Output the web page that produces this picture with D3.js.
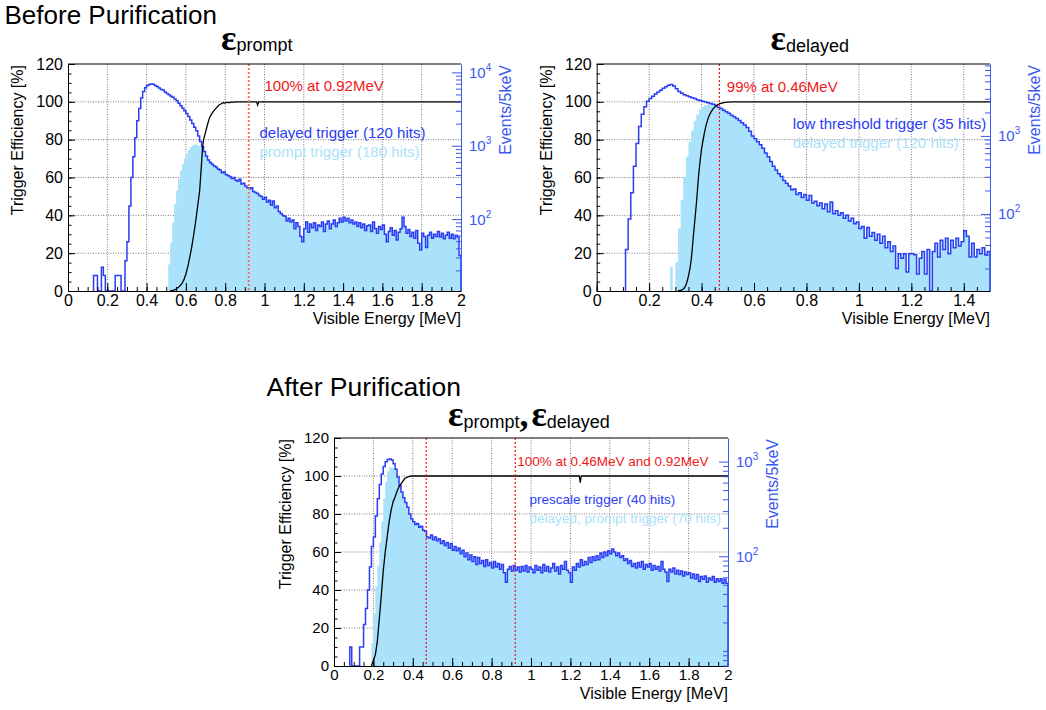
<!DOCTYPE html>
<html>
<head>
<meta charset="utf-8">
<script src="https://cdn.jsdelivr.net/npm/d3@7"></script>
<style>
  body { margin: 0; background: #fff; }
</style>
</head>
<body>
<svg id="chart" width="1046" height="710"></svg>
<script>
// Histograms re-binned to 10 keV steps, values kept as Events/5keV
var binWidth = 0.01;

// ---------- Before purification, epsilon prompt ----------
// delayed trigger (120 hits), first bin starts at 0.13 MeV
var promptLineStart = 0.13;
var promptLineCounts = [
  17, 17, 0, 0, 22, 17, 0, 0, 0, 0,
  0, 17, 17, 17, 0, 0, 27, 49, 151, 369,
  708, 1280, 2190, 3220, 4470, 5500, 6180, 6600, 6840, 6920,
  6880, 6640, 6440, 6110, 5860, 5750, 5390, 5170, 4960, 4730,
  4570, 4330, 4100, 3780, 3520, 3240, 3000, 2760, 2500, 2240,
  2010, 1780, 1600, 1360, 1140, 971, 832, 726, 641, 590,
  559, 530,
  512, 482, 468, 428, 441, 404, 392, 380, 358, 369,
  338, 328, 348, 300, 309, 283, 267, 259, 267, 237,
  230, 223, 210, 204, 186, 198, 171, 181, 156, 176,
  143, 151, 127, 119, 112, 109, 94, 103, 91, 97,
  74, 89, 79, 58, 49, 74, 91, 66, 86, 76,
  89, 70, 83, 79, 91, 68, 86, 94, 74, 86,
  97, 79, 89, 103, 91, 106, 94, 103, 89, 97,
  86, 91, 79, 89, 76, 86, 70, 81, 83, 68,
  91, 74, 64, 79, 72, 83, 62, 49, 68, 76,
  60, 70, 52, 66, 74, 106, 79, 64, 72, 58,
  66, 55, 70, 47, 38, 64, 58, 41, 60, 66,
  55, 62, 58, 68, 57, 64, 54, 60, 66, 55,
  62, 54, 60, 57, 32
];
// prompt trigger (180 hits) rising edge; above it the two histograms coincide
var promptFillStart = 0.51;
var promptFillCounts = [24, 47, 89, 161, 244, 348, 455, 559, 668, 773, 869, 953, 1010, 1048, 1042, 1010, 953];
var promptEffE = [0.52, 0.54, 0.55, 0.56, 0.57, 0.58, 0.59, 0.60, 0.61, 0.62, 0.63, 0.64, 0.65, 0.66, 0.67, 0.68,
  0.685, 0.69, 0.70, 0.71, 0.72, 0.73, 0.74, 0.75, 0.76, 0.77, 0.78, 0.79, 0.80, 0.81, 0.82, 0.83,
  0.84, 0.85, 0.96, 0.965, 0.97, 2.0];
var promptEffV = [0, 0.5, 1, 1.8, 2.8, 4, 6, 9, 13, 18, 23.5, 30, 37, 45, 53, 68,
  76, 80, 84, 88, 91.5, 93.5, 95, 96.3, 97.3, 98.5, 99, 99.5, 99.3, 99.8, 99.5, 100,
  99.7, 100, 100, 98.3, 100, 100];

// ---------- Before purification, epsilon delayed ----------
// low threshold trigger (35 hits), first bin starts at 0.11 MeV
var delayedLineStart = 0.11;
var delayedLineCounts = [
  35, 86, 187, 409, 800, 1320, 1900, 2370, 2775, 3015,
  3222, 3446, 3642, 3852, 4074, 4259, 4454, 4553, 4376, 4030,
  3710, 3520, 3371, 3275, 3170, 3083, 3015, 2917, 2851, 2787,
  2728, 2667, 2606, 2549, 2467, 2333, 2243, 2133, 2040, 1950,
  1845, 1763, 1668, 1578, 1475, 1380, 1283, 1148, 998, 919,
  845, 769, 695, 604, 541, 470, 409, 366, 327, 301,
  269, 248, 228, 204, 209, 177, 187, 163, 177, 150,
  172, 138, 146, 127, 138, 117, 134, 107, 142, 101,
  110, 96, 104, 88, 96, 81, 88, 75, 79, 65,
  69, 49, 67, 52, 58, 46, 55, 42, 52, 37,
  44, 33, 39, 20, 31, 27, 31, 18, 31, 31,
  30, 17, 27, 33, 17, 35, 0, 33, 42, 28,
  46, 35, 49, 31, 46, 37, 49, 39, 44, 61,
  52, 28, 42, 28, 35, 31, 37, 30, 33
];
// delayed trigger (120 hits) rising edge
var delayedFillStart = 0.28;
var delayedFillCounts = [21, 0, 24, 65, 150, 293, 541, 845, 1180, 1560, 1896, 2181, 2346, 2467, 2522, 2549, 2549];
var delayedEffE = [0.31, 0.32, 0.33, 0.34, 0.35, 0.36, 0.37, 0.38, 0.39, 0.40, 0.41, 0.42, 0.43, 0.44,
  0.45, 0.46, 0.47, 0.48, 0.49, 0.50, 0.52, 1.5];
var delayedEffV = [0, 0.3, 1, 3, 8, 16, 31, 46, 63, 75, 83, 89, 93, 95.5,
  97.2, 98.3, 99, 99.4, 99.7, 99.85, 100, 100];

// ---------- After purification ----------
// prescale trigger (40 hits), first bin starts at 0.08 MeV
var afterLineStart = 0.08;
var afterLineCounts = [
  11, 0, 0, 0, 0, 11, 11, 19, 28, 44,
  77, 127, 160, 267, 405, 572, 738, 887, 996, 1052,
  1067, 1038, 951, 828, 688, 559, 476, 414, 369, 329,
  279, 249, 232, 217, 222, 202, 207, 188, 184, 160,
  156, 168, 149, 160, 146, 153, 136, 146, 130, 140,
  122, 136, 116, 127, 114, 122, 106, 116, 99, 108,
  92, 103, 88, 99, 82, 97, 84, 90, 78, 92,
  80, 86, 75, 88, 77, 84, 73, 82, 67, 53,
  73, 78, 70, 80, 71, 77, 68, 78, 70, 80,
  68, 77, 73, 67, 80, 71, 77, 67, 82, 70,
  78, 68, 75, 84, 70, 77, 65, 80, 73, 88,
  71, 67, 53, 77, 71, 84, 77, 92, 80, 88,
  82, 97, 86, 99, 90, 101, 92, 108, 97, 111,
  101, 114, 106, 119, 111, 101, 108, 97, 101, 90,
  94, 84, 90, 78, 84, 75, 86, 77, 88, 73,
  82, 77, 84, 71, 80, 73, 78, 70, 88, 73,
  68, 54, 73, 68, 75, 65, 71, 64, 70, 62,
  68, 64, 67, 59, 65, 58, 64, 54, 61, 57,
  62, 53, 59, 56, 61, 53, 58, 54, 58, 52,
  57, 52
];
// delayed, prompt trigger (70 hits) rising edge
var afterFillStart = 0.19;
var afterFillCounts = [12, 25, 48, 80, 140, 232, 405, 613, 791, 879, 867, 855];
var afterEffE = [0.19, 0.20, 0.21, 0.22, 0.23, 0.24, 0.25, 0.26, 0.27, 0.28, 0.29, 0.30, 0.31, 0.32,
  0.33, 0.34, 0.35, 0.36, 0.37, 0.38, 0.39, 1.245, 1.25, 1.255, 2.0];
var afterEffV = [0, 3, 6, 13, 25, 37, 50, 60, 68, 76, 82, 86.5, 89, 92,
  94.3, 95.8, 97.3, 98.8, 99.3, 99.7, 100, 100, 96.5, 100, 100];

// axis ticks
var xTicksWide = [0, 0.2, 0.4, 0.6, 0.8, 1, 1.2, 1.4, 1.6, 1.8, 2];
var xTicksNarrow = [0, 0.2, 0.4, 0.6, 0.8, 1, 1.2, 1.4];
var effTicks = [0, 20, 40, 60, 80, 100, 120];

var FONT = '"Liberation Sans", Arial, Helvetica, sans-serif';
var SERIF = '"Liberation Serif", "DejaVu Serif", serif';
var LINE_BLUE = "#2a3cf5";
var FILL_BLUE = "#a9e2fa";
var AXIS_BLUE = "#3a58f2";
var RED = "#f01818";

var svg = d3.select("#chart").attr("font-family", FONT);

function hist(start, counts) {
    return counts.map(function (c, i) {
        var x0 = start + i * binWidth;
        return { x0: x0, x1: x0 + binWidth, c: c };
    });
}

// above the rising edge the trigger histogram follows the reference one
function joinFill(fillStart, fillCounts, lineStart, lineCounts) {
    var k = Math.round((fillStart - lineStart) / binWidth) + fillCounts.length;
    return fillCounts.concat(lineCounts.slice(k));
}

function stepPoints(bins, lo) {
    var pts = [[bins[0].x0, lo]];
    bins.forEach(function (b) {
        var c = Math.max(b.c, lo);
        pts.push([b.x0, c], [b.x1, c]);
    });
    pts.push([bins[bins.length - 1].x1, lo]);
    return pts;
}

var panels = [
    {
        id: 1, left: 68, top: 64, width: 393, height: 227, xMax: 2, xTicks: xTicksWide,
        countDomain: [10.47, 13000], countLabels: [100, 1000, 10000],
        lineStart: promptLineStart, lineCounts: promptLineCounts,
        fillStart: promptFillStart, fillCounts: promptFillCounts,
        effE: promptEffE, effV: promptEffV, smooth: false,
        tickFont: 16, yTitleDx: 45.5, xTitleDy: 32.5,
        marks: [0.92], markColor: "#ff6a6a", markWidth: 2,
        notes: [
            { text: "100% at 0.92MeV", x: 264.5, y: 90.7, color: RED, size: 15 },
            { text: "delayed trigger (120 hits)", x: 259.5, y: 138.3, color: LINE_BLUE, size: 15 },
            { text: "prompt trigger (180 hits)", x: 259.5, y: 157.3, color: FILL_BLUE, size: 15 }
        ]
    },
    {
        id: 2, left: 596.7, top: 64, width: 393.3, height: 227, xMax: 1.5, xTicks: xTicksNarrow,
        countDomain: [10.3, 8350], countLabels: [100, 1000],
        lineStart: delayedLineStart, lineCounts: delayedLineCounts,
        fillStart: delayedFillStart, fillCounts: delayedFillCounts,
        effE: delayedEffE, effV: delayedEffV, smooth: true,
        tickFont: 16, yTitleDx: 45, xTitleDy: 32.5,
        marks: [0.468], markColor: RED, markWidth: 1.2,
        notes: [
            { text: "99% at 0.46MeV", x: 726.8, y: 91.7, color: RED, size: 15 },
            { text: "low threshold trigger (35 hits)", x: 792.8, y: 129.3, color: LINE_BLUE, size: 15 },
            { text: "delayed trigger (120 hits)", x: 792.8, y: 148.3, color: FILL_BLUE, size: 15 }
        ]
    },
    {
        id: 3, left: 334, top: 438, width: 394, height: 228, xMax: 2, xTicks: xTicksWide,
        countDomain: [6.93, 1775], countLabels: [100, 1000],
        lineStart: afterLineStart, lineCounts: afterLineCounts,
        fillStart: afterFillStart, fillCounts: afterFillCounts,
        effE: afterEffE, effV: afterEffV, smooth: false,
        tickFont: 15, yTitleDx: 43.5, xTitleDy: 32.5,
        marks: [0.468, 0.92], markColor: RED, markWidth: 1.2,
        notes: [
            { text: "100% at 0.46MeV and 0.92MeV", x: 517.2, y: 466, color: RED, size: 13.5 },
            { text: "prescale trigger (40 hits)", x: 529.6, y: 504, color: LINE_BLUE, size: 13.5 },
            { text: "delayed, prompt trigger (70 hits)", x: 529.6, y: 523.3, color: FILL_BLUE, size: 13.5 }
        ]
    }
];

function drawPanel(p) {
    var bottom = p.top + p.height;
    var right = p.left + p.width;
    var lo = p.countDomain[0];
    var hi = p.countDomain[1];

    var x = d3.scaleLinear().domain([0, p.xMax]).range([p.left, right]);
    var yEff = d3.scaleLinear().domain([0, 120]).range([bottom, p.top]);
    var yCnt = d3.scaleLog().domain(p.countDomain).range([bottom, p.top]);

    var g = svg.append("g");
    var clipId = "clip" + p.id;
    svg.append("clipPath").attr("id", clipId).append("rect")
        .attr("x", p.left).attr("y", p.top).attr("width", p.width).attr("height", p.height);

    // Grid
    g.selectAll(null)
        .data(p.xTicks.filter(function (d) { return d > 0 && d < p.xMax; }))
        .enter().append("line")
        .attr("x1", function (d) { return x(d); })
        .attr("x2", function (d) { return x(d); })
        .attr("y1", p.top).attr("y2", bottom)
        .attr("stroke", "#7a7a7a").attr("stroke-width", 1)
        .attr("stroke-dasharray", "1,1.5");

    g.selectAll(null)
        .data(effTicks.filter(function (d) { return d > 0 && d < 120; }))
        .enter().append("line")
        .attr("x1", p.left).attr("x2", right)
        .attr("y1", function (d) { return yEff(d); })
        .attr("y2", function (d) { return yEff(d); })
        .attr("stroke", "#7a7a7a").attr("stroke-width", 1)
        .attr("stroke-dasharray", "1,1.5");

    var plot = g.append("g").attr("clip-path", "url(#" + clipId + ")");

    // Histograms
    var lineBins = hist(p.lineStart, p.lineCounts);
    var fillBins = hist(p.fillStart, joinFill(p.fillStart, p.fillCounts, p.lineStart, p.lineCounts));

    var area = d3.area()
        .x(function (d) { return x(d[0]); })
        .y0(bottom)
        .y1(function (d) { return yCnt(d[1]); });
    plot.append("path")
        .attr("d", area(stepPoints(fillBins, lo)))
        .attr("fill", FILL_BLUE);

    var line = d3.line()
        .x(function (d) { return x(d[0]); })
        .y(function (d) { return yCnt(d[1]); });
    plot.append("path")
        .attr("d", line(stepPoints(lineBins, lo)))
        .attr("fill", "none")
        .attr("stroke", LINE_BLUE)
        .attr("stroke-width", 1.5);

    // Efficiency
    var effLine = d3.line()
        .x(function (d) { return x(d[0]); })
        .y(function (d) { return yEff(d[1]); })
        .curve(p.smooth ? d3.curveMonotoneX : d3.curveLinear);
    plot.append("path")
        .attr("d", effLine(d3.zip(p.effE, p.effV)))
        .attr("fill", "none")
        .attr("stroke", "black")
        .attr("stroke-width", 1.3);

    // Threshold markers
    plot.selectAll(null)
        .data(p.marks)
        .enter().append("line")
        .attr("x1", function (d) { return x(d); })
        .attr("x2", function (d) { return x(d); })
        .attr("y1", p.top).attr("y2", bottom)
        .attr("stroke", p.markColor)
        .attr("stroke-width", p.markWidth)
        .attr("stroke-dasharray", "2,2");

    // Axes
    var fmt = function (d) { return String(d); };

    g.append("g")
        .attr("transform", "translate(0," + bottom + ")")
        .call(d3.axisBottom(x).tickValues(p.xTicks).tickSize(-8).tickSizeOuter(0).tickPadding(3.5).tickFormat(fmt))
        .attr("font-family", FONT).attr("font-size", p.tickFont);

    g.append("g")
        .attr("transform", "translate(0," + bottom + ")")
        .call(d3.axisBottom(x).tickValues(d3.range(0, p.xMax + 1e-9, 0.05)).tickSize(-4).tickSizeOuter(0).tickFormat(""))
        .select(".domain").remove();

    g.append("g")
        .attr("transform", "translate(" + p.left + ",0)")
        .call(d3.axisLeft(yEff).tickValues(effTicks).tickSize(-7).tickSizeOuter(0).tickPadding(5).tickFormat(fmt))
        .attr("font-family", FONT).attr("font-size", p.tickFont);

    g.append("g")
        .attr("transform", "translate(" + p.left + ",0)")
        .call(d3.axisLeft(yEff).tickValues(d3.range(0, 121, 5)).tickSize(-3.5).tickSizeOuter(0).tickFormat(""))
        .select(".domain").remove();

    // Top frame edge
    g.append("line")
        .attr("x1", p.left).attr("x2", right)
        .attr("y1", p.top).attr("y2", p.top)
        .attr("stroke", "black");

    // Right log axis
    var minors = [];
    [1, 10, 100, 1000, 10000].forEach(function (dec) {
        for (var k = 1; k <= 9; k++) {
            var v = k * dec;
            if (v >= lo && v <= hi && p.countLabels.indexOf(v) < 0) minors.push(v);
        }
    });

    g.append("g")
        .attr("transform", "translate(" + right + ",0)")
        .call(d3.axisRight(yCnt).tickValues(p.countLabels).tickSize(-9).tickSizeOuter(0).tickFormat(""))
        .attr("color", AXIS_BLUE);

    g.append("g")
        .attr("transform", "translate(" + right + ",0)")
        .call(d3.axisRight(yCnt).tickValues(minors).tickSize(-5).tickSizeOuter(0).tickFormat(""))
        .attr("color", AXIS_BLUE)
        .select(".domain").remove();

    p.countLabels.forEach(function (v) {
        var t = g.append("text")
            .attr("x", right + 8)
            .attr("y", yCnt(v) + 5.5)
            .attr("fill", AXIS_BLUE)
            .attr("font-size", 15);
        t.append("tspan").text("10");
        t.append("tspan").attr("dy", -7).attr("font-size", 10).text(Math.round(Math.log10(v)));
    });

    // Axis titles
    g.append("text")
        .attr("transform", "translate(" + (p.left - p.yTitleDx) + "," + (p.top + 1) + ") rotate(-90)")
        .attr("text-anchor", "end")
        .attr("font-size", 16)
        .text("Trigger Efficiency [%]");

    g.append("text")
        .attr("transform", "translate(" + (right + 50) + "," + (p.top + 1) + ") rotate(-90)")
        .attr("text-anchor", "end")
        .attr("font-size", 16)
        .attr("fill", AXIS_BLUE)
        .text("Events/5keV");

    g.append("text")
        .attr("x", right)
        .attr("y", bottom + p.xTitleDy)
        .attr("text-anchor", "end")
        .attr("font-size", 16)
        .text("Visible Energy [MeV]");

    // Legends and notes
    g.selectAll(null)
        .data(p.notes)
        .enter().append("text")
        .attr("x", function (d) { return d.x; })
        .attr("y", function (d) { return d.y; })
        .attr("fill", function (d) { return d.color; })
        .attr("font-size", function (d) { return d.size; })
        .text(function (d) { return d.text; });
}

panels.forEach(drawPanel);

// Headings
svg.append("text").attr("x", 4.5).attr("y", 23.8).attr("font-size", 26).text("Before Purification");
svg.append("text").attr("x", 266.5).attr("y", 396).attr("font-size", 26.5).text("After Purification");

function epsTitle(x, y, parts) {
    var t = svg.append("text").attr("x", x).attr("y", y);
    parts.forEach(function (s) {
        var span = t.append("tspan").text(s.text);
        if (s.big) {
            span.attr("font-family", SERIF).attr("font-size", 36).attr("font-weight", "bold");
        } else {
            span.attr("font-size", 18);
        }
        if (s.dx) span.attr("dx", s.dx);
        if (s.dy) span.attr("dy", s.dy);
    });
}

epsTitle(221, 50, [{ text: "ε", big: true }, { text: "prompt", dy: 1 }]);
epsTitle(770.5, 50, [{ text: "ε", big: true }, { text: "delayed", dy: 1.5 }]);
epsTitle(448, 426, [
    { text: "ε", big: true }, { text: "prompt", dy: 1.5 },
    { text: ",", big: true, dy: -1.5 }, { text: "ε", big: true, dx: 3 },
    { text: "delayed", dy: 1.5 }
]);
</script>
</body>
</html>
